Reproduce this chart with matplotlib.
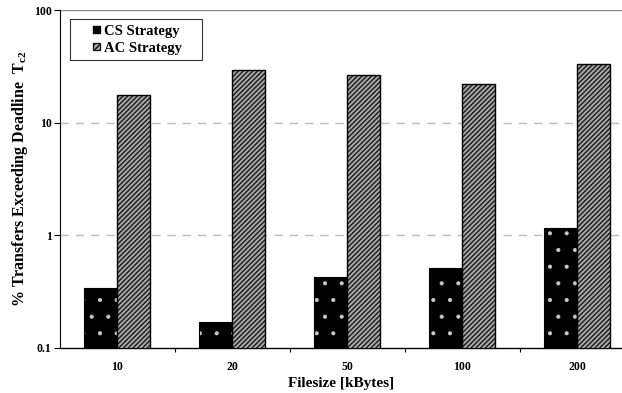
import numpy as np
import matplotlib.pyplot as plt
from matplotlib.patches import Patch, Rectangle
from matplotlib.legend_handler import HandlerPatch
from matplotlib.ticker import FixedLocator, NullLocator

plt.rcParams['font.family'] = 'Liberation Serif'
plt.rcParams['font.weight'] = 'bold'
plt.rcParams['mathtext.fontset'] = 'custom'
plt.rcParams['mathtext.rm'] = 'Liberation Serif:bold'
plt.rcParams['mathtext.bf'] = 'Liberation Serif:bold'
plt.rcParams['mathtext.it'] = 'Liberation Serif:bold'

# data
filesizes = ["10", "20", "50", "100", "200"]
cs_strategy = [0.34, 0.17, 0.43, 0.51, 1.16]
ac_strategy = [17.6, 29.3, 26.4, 22.0, 33.5]

fig = plt.figure(figsize=(6.22, 3.93), dpi=100)
ax = fig.add_axes([60 / 622, 1 - 348 / 393, 1 - 60 / 622, 338 / 393])
ax.set_yscale("log")

x = np.arange(len(filesizes))
w = 0.287

# CS: black with small white dots
plt.rcParams['hatch.linewidth'] = 0.5
ax.bar(x - w / 2, cs_strategy, w, color="black", edgecolor="#cccccc",
       hatch=".", linewidth=0, zorder=3)
ax.bar(x - w / 2, cs_strategy, w, fill=False, edgecolor="black",
       linewidth=0.8, zorder=4)
# AC: diagonal stripes
plt.rcParams['hatch.linewidth'] = 1.0
ax.bar(x + w / 2, ac_strategy, w, color="#a8a8a8", edgecolor="#1a1a1a",
       hatch="///////", linewidth=0, zorder=3)
ax.bar(x + w / 2, ac_strategy, w, fill=False, edgecolor="black",
       linewidth=1.0, zorder=4)

ax.set_ylim(0.1, 100)
ax.set_xlim(-0.5, 4.39)

ax.yaxis.set_major_locator(FixedLocator([0.1, 1, 10, 100]))
ax.yaxis.set_minor_locator(NullLocator())
ax.set_yticklabels(["0.1", "1", "10", "100"], fontsize=8.5, fontweight="bold")
ax.tick_params(axis="y", length=4, width=0.8, pad=2)

ax.set_xticks(x)
ax.set_xticklabels(filesizes, fontsize=8.5, fontweight="bold")
ax.set_xticks(np.arange(len(filesizes) - 1) + 0.5, minor=True)
ax.tick_params(axis="x", which="major", length=0, pad=9)
ax.tick_params(axis="x", which="minor", length=3, width=0.8, direction="out")

for v in [1, 10]:
    ax.axhline(v, color="#bbbbbb", linestyle=(0, (6, 5)), linewidth=1, zorder=1)
ax.axhline(100, color="#888888", linewidth=1, zorder=1)

ax.spines["top"].set_visible(False)
ax.spines["right"].set_visible(False)
ax.spines["left"].set_linewidth(0.8)
ax.spines["bottom"].set_linewidth(1.0)

ax.set_xlabel("Filesize [kBytes]", fontsize=11, fontweight="bold", labelpad=3)
ax.set_ylabel("% Transfers Exceeding Deadline  T$_{\\mathrm{c2}}$", fontsize=11.5,
              fontweight="bold", labelpad=3)


def small_square(legend, orig_handle, xdescent, ydescent, width, height, fontsize):
    s = 5.2
    return Rectangle((width - s - xdescent, -ydescent + (height - s) / 2), s, s)


handles = [Patch(facecolor="black", edgecolor="black", label="CS Strategy    "),
           Patch(facecolor="#a8a8a8", edgecolor="#1a1a1a", hatch="//////",
                 label="AC Strategy    ")]
leg = ax.legend(handles=handles, loc="upper left", bbox_to_anchor=(0.018, 0.972),
                prop={"weight": "bold", "size": 10.5}, frameon=True,
                fancybox=False, edgecolor="black", handlelength=1.7, handleheight=0.7,
                handletextpad=0.3, borderpad=0.35, labelspacing=0.25, borderaxespad=0,
                handler_map={Patch: HandlerPatch(patch_func=small_square)})
leg.get_frame().set_linewidth(0.8)

fig.savefig("out.png", dpi=100)
